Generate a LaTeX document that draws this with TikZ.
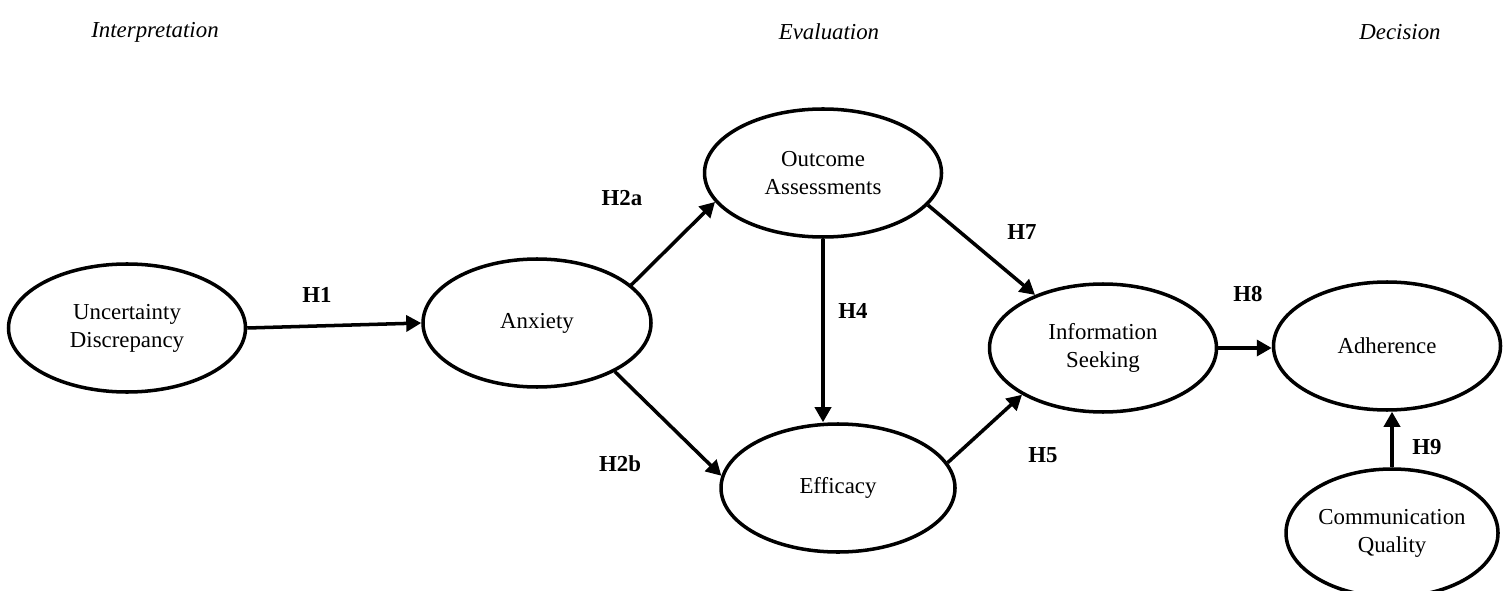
\documentclass[tikz,border=0pt]{standalone}
\usepackage{fontspec}
\setmainfont{Liberation Serif}
\usetikzlibrary{shapes.geometric,arrows.meta}

\begin{document}
\begin{tikzpicture}
\tikzset{construct/.style={draw,ellipse,line width=2pt,minimum height=2.56cm,inner sep=0pt,align=center,font=\fontsize{13}{16}\selectfont}}% vertex style
\tikzset{path/.style={line width=2pt,-{Triangle[length=0.3cm,width=0.32cm]}}}% edge style
\tikzset{hyp/.style={font=\fontsize{13}{16}\selectfont\bfseries}}% edge label
\tikzset{stage/.style={font=\fontsize{13}{16}\selectfont\itshape}}% column heading
\clip (0,0) rectangle (30.2,11.8);
\node[stage] (interp) at (3.10,11.16) {Interpretation};
\node[stage] (evalu) at (16.58,11.16) {Evaluation};
\node[stage] (decis) at (28.00,11.16) {Decision};
%%%%%%%%%%%%%%%%%%%%%%%%%%%%%%
\node[construct,minimum width=4.74cm] (UD) at (2.54,5.24) {Uncertainty\\Discrepancy};
\node[construct,minimum width=4.56cm] (AX) at (10.74,5.34) {Anxiety};
\node[construct,minimum width=4.74cm] (OA) at (16.46,8.34) {Outcome\\Assessments};
\node[construct,minimum width=4.68cm] (EF) at (16.76,2.04) {Efficacy};
\node[construct,minimum width=4.54cm] (IS) at (22.06,4.84) {Information\\Seeking};
\node[construct,minimum width=4.54cm] (AD) at (27.74,4.88) {Adherence};
\node[construct,minimum width=4.24cm] (CQ) at (27.84,1.14) {Communication\\Quality};
%%%%%%%%%%%%%%%%%%%%%%%%%%%%%%
\draw[path] (UD.east) -- (AX.west);
\draw[path] (AX.22) -- (OA.195);
\draw[path] (AX.-32) -- (EF.174);
\draw[path] (OA.south) -- (OA.south |- EF.north);
\draw[path] (OA.-17) -- (IS.142);
\draw[path] (EF.13) -- (IS.210);
\draw[path] (IS.east) -- (IS.east -| AD.west);
\draw[path] (CQ.north) -- (CQ.north |- AD.south);
%%%%%%%%%%%%%%%%%%%%%%%%%%%%%%
\node[hyp] (h1) at (6.34,5.90) {H1};
\node[hyp] (h2a) at (12.44,7.84) {H2a};
\node[hyp] (h2b) at (12.40,2.52) {H2b};
\node[hyp] (h4) at (17.06,5.58) {H4};
\node[hyp] (h7) at (20.44,7.16) {H7};
\node[hyp] (h8) at (24.96,5.92) {H8};
\node[hyp] (h5) at (20.86,2.70) {H5};
\node[hyp] (h9) at (28.54,2.86) {H9};
\end{tikzpicture}
\end{document}
